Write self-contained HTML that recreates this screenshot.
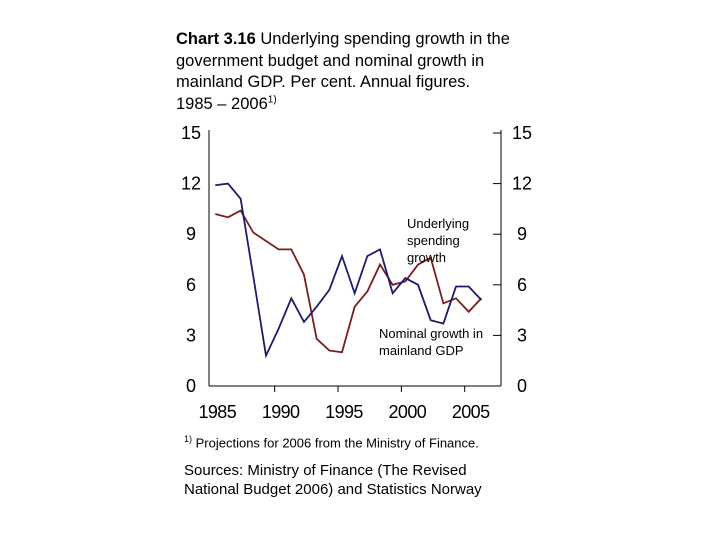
<!DOCTYPE html>
<html><head><meta charset="utf-8"><style>
body{margin:0;background:#fff;font-family:"Liberation Sans",sans-serif;}
#c{position:relative;width:720px;height:540px;}
.t{position:absolute;color:#000;}
</style></head><body><div id="c">
<div class="t" style="left:176px;top:29px;font-size:16.5px;line-height:21.5px;white-space:nowrap;"><b>Chart 3.16</b> Underlying spending growth in the<br>government budget and nominal growth in<br>mainland GDP. Per cent. Annual figures.<br>1985 – 2006<sup style="font-size:10px;line-height:0">1)</sup></div>
<svg id="s" width="720" height="540" style="position:absolute;left:0;top:0"></svg>
<div class="t" style="left:184px;top:434px;font-size:13px;"><sup style="font-size:9px">1)</sup> Projections for 2006 from the Ministry of Finance.</div>
<div class="t" style="left:184px;top:461px;font-size:15px;line-height:19px;">Sources: Ministry of Finance (The Revised<br>National Budget 2006) and Statistics Norway</div>
</div>
<script>
const years=[1985,1986,1987,1988,1989,1990,1991,1992,1993,1994,1995,1996,1997,1998,1999,2000,2001,2002,2003,2004,2005,2006];
const spending=[11.9,12.0,11.1,6.5,1.8,3.4,5.2,3.8,4.7,5.7,7.7,5.5,7.7,8.1,5.5,6.4,6.0,3.9,3.7,5.9,5.9,5.1];
const gdp=[10.2,10.0,10.4,9.1,8.6,8.1,8.1,6.6,2.8,2.1,2.0,4.7,5.6,7.2,6.0,6.2,7.2,7.6,4.9,5.2,4.4,5.2];
const yTicks=[0,3,6,9,12,15];
const xTicks=[1985,1990,1995,2000,2005];
const NS='http://www.w3.org/2000/svg';
const s=document.getElementById('s');
const L=209,R=501,B=386,T=133;
const x=y=>215.3+(y-1985)*12.67;
const yy=v=>B-(v/15)*(B-T);
function el(t,a){const e=document.createElementNS(NS,t);for(const k in a)e.setAttribute(k,a[k]);s.appendChild(e);return e;}
let e=el('line',{x1:L,y1:T-3,x2:L,y2:B,stroke:'#000'});

e=el('line',{x1:R,y1:T-3,x2:R,y2:B,stroke:'#000'});

e=el('line',{x1:L,y1:B,x2:R,y2:B,stroke:'#000'});

yTicks.forEach(v=>{
 e=el('line',{x1:R-8,y1:yy(v),x2:R,y2:yy(v),stroke:'#000'});
 
 e=el('text',{x:191,y:yy(v)+6,'font-size':18,'text-anchor':'middle','font-family':'Liberation Sans'});e.textContent=v;
 
 e=el('text',{x:522,y:yy(v)+6,'font-size':18,'text-anchor':'middle','font-family':'Liberation Sans'});e.textContent=v;
 
});
xTicks.forEach(yr=>{
 const px=x(yr)+2;
 if(yr>1985){e=el('line',{x1:px-6,y1:B,x2:px-6,y2:B+6,stroke:'#000'});
 }
 e=el('text',{x:px,y:418,'font-size':18,'text-anchor':'middle','font-family':'Liberation Sans','letter-spacing':'-0.6'});e.textContent=yr;
 
});
function line(d,c,n){const p=el('polyline',{points:d.map((v,i)=>x(years[i])+','+yy(v)).join(' '),fill:'none',stroke:c,'stroke-width':1.8});
}
line(gdp,'#7a1e1e','gdp-line');
line(spending,'#1c1c6b','spending-line');
[['Underlying',228],['spending',245],['growth',262]].forEach(([t,yv])=>{e=el('text',{x:407,y:yv,'font-size':13,'font-family':'Liberation Sans'});e.textContent=t;
});
[['Nominal growth in',338],['mainland GDP',355]].forEach(([t,yv])=>{e=el('text',{x:379,y:yv,'font-size':13,'font-family':'Liberation Sans'});e.textContent=t;
});
</script></body></html>
